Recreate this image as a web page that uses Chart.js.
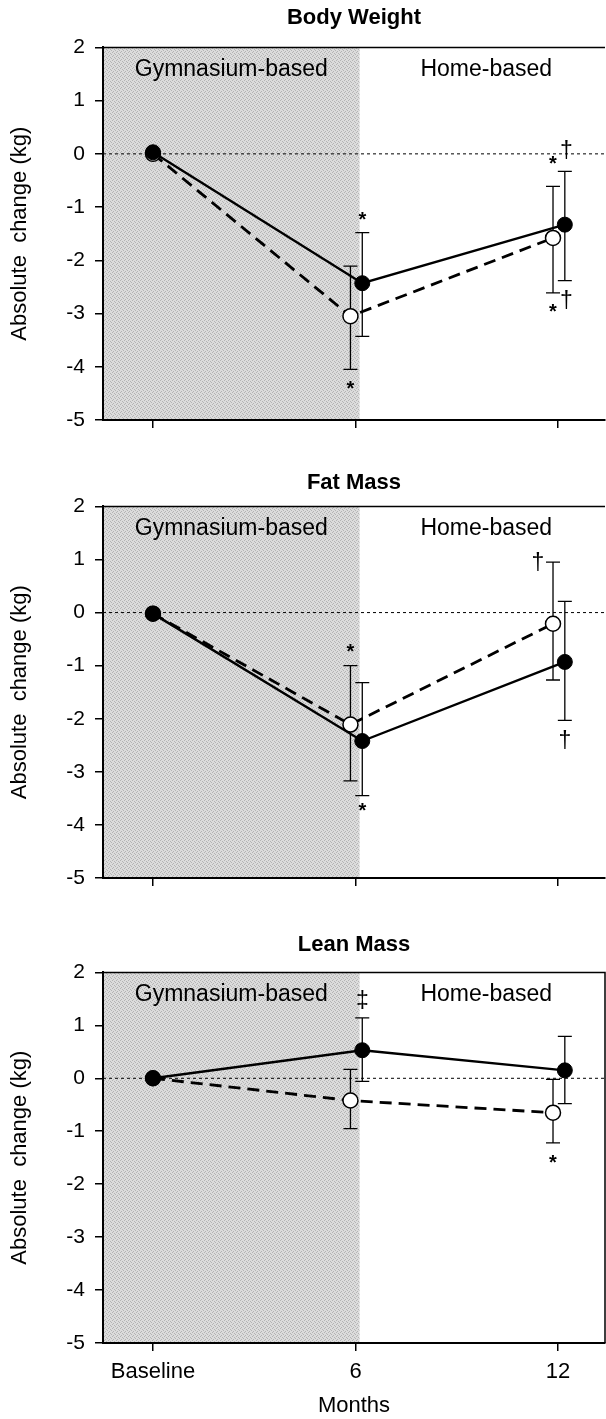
<!DOCTYPE html>
<html lang="en">
<head>
<meta charset="UTF-8" />
<title>Absolute change</title>
<script src="https://cdn.jsdelivr.net/npm/chart.js"></script>
<style>
    body { margin: 0; background: #fff; width: 606px; height: 1419px; position: relative; overflow: hidden; }
    canvas { position: absolute; left: 0; }
</style>
</head>
<body>
<canvas id="bw" width="606" height="460" style="top:0px"></canvas>
<canvas id="fm" width="606" height="460" style="top:460px"></canvas>
<canvas id="lm" width="606" height="499" style="top:920px"></canvas>

<script>
    // months and their labels
    const months = [0, 6, 12];
    const monthLabels = ['Baseline', '6', '12'];
    const yTicks = [-5, -4, -3, -2, -1, 0, 1, 2];

    // Body weight (filled = solid line, open = dashed line)
    const bwFilled = [0.03, -2.43, -1.33];
    const bwFilledHi = [null, -1.48, -0.33];
    const bwFilledLo = [null, -3.43, -2.38];
    const bwOpen = [0.0, -3.05, -1.58];
    const bwOpenHi = [null, -2.11, -0.61];
    const bwOpenLo = [null, -4.05, -2.61];
    const bwMarks = [[6.2, -1.2, '*'], [5.85, -4.37, '*'], [11.85, -0.14, '*'], [12.25, 0.04, '†'], [11.85, -2.93, '*'], [12.25, -2.77, '†']];

    // Fat mass
    const fmFilled = [-0.02, -2.42, -0.93];
    const fmFilledHi = [null, -1.32, 0.21];
    const fmFilledLo = [null, -3.45, -2.03];
    const fmOpen = [-0.02, -2.11, -0.21];
    const fmOpenHi = [null, -1.0, 0.95];
    const fmOpenLo = [null, -3.17, -1.27];
    const fmMarks = [[5.85, -0.7, '*'], [6.2, -3.69, '*'], [11.4, 0.92, '†'], [12.2, -2.44, '†']];

    // Lean mass
    const lmFilled = [0.0, 0.53, 0.15];
    const lmFilledHi = [null, 1.14, 0.79];
    const lmFilledLo = [null, -0.06, -0.48];
    const lmOpen = [0.0, -0.42, -0.65];
    const lmOpenHi = [null, 0.17, -0.02];
    const lmOpenLo = [null, -0.95, -1.22];
    const lmMarks = [[6.2, 1.44, '‡'], [11.85, -1.55, '*']];

    const phaseLabels = ['Gymnasium-based', 'Home-based'];
    const SHADE_END = 6.12;
    const FILLED_SHIFT = 0.2;
    const OPEN_SHIFT = -0.15;
    const FONT = '"Liberation Sans", Arial, Helvetica, sans-serif';

    function stipple() {
        const c = document.createElement('canvas');
        c.width = 4; c.height = 4;
        const g = c.getContext('2d');
        g.fillStyle = '#dcdcdc';
        g.fillRect(0, 0, 4, 4);
        g.fillStyle = '#b4b4b4';
        [[0, 0], [2, 1], [1, 3], [3, 2]].forEach(p => g.fillRect(p[0], p[1], 1, 1));
        return c;
    }

    const decorPlugin = {
        id: 'decor',
        beforeDraw(chart) {
            const { ctx, chartArea: a, scales: { x } } = chart;
            const xe = x.getPixelForValue(SHADE_END);
            ctx.save();
            ctx.fillStyle = ctx.createPattern(stipple(), 'repeat');
            ctx.fillRect(a.left, a.top, xe - a.left, a.bottom - a.top);
            ctx.restore();
        },
        beforeDatasetsDraw(chart) {
            const { ctx, chartArea: a, scales: { x, y } } = chart;
            const o = chart.options.plugins.decor;
            ctx.save();
            // zero line
            const y0 = y.getPixelForValue(0);
            ctx.strokeStyle = '#000';
            ctx.lineWidth = 1;
            ctx.setLineDash([3, 3]);
            ctx.beginPath();
            ctx.moveTo(a.left, y0);
            ctx.lineTo(a.right, y0);
            ctx.stroke();
            ctx.setLineDash([]);
            // frame
            ctx.lineWidth = 1.5;
            ctx.beginPath();
            ctx.moveTo(a.left, a.top);
            ctx.lineTo(a.right, a.top);
            if (o.rightBorder) ctx.lineTo(a.right, a.bottom);
            ctx.stroke();
            // phase labels
            const xe = x.getPixelForValue(SHADE_END);
            ctx.fillStyle = '#000';
            ctx.font = '23px ' + FONT;
            ctx.textAlign = 'center';
            ctx.textBaseline = 'middle';
            ctx.fillText(phaseLabels[0], (a.left + xe) / 2, a.top + 22);
            ctx.fillText(phaseLabels[1], (xe + a.right) / 2 + 4, a.top + 22);
            // error bars
            ctx.lineWidth = 1.3;
            chart.data.datasets.forEach((ds, i) => {
                const meta = chart.getDatasetMeta(i);
                meta.data.forEach((pt, j) => {
                    if (ds.hi[j] == null) return;
                    const yh = y.getPixelForValue(ds.hi[j]);
                    const yl = y.getPixelForValue(ds.lo[j]);
                    ctx.beginPath();
                    ctx.moveTo(pt.x, yh); ctx.lineTo(pt.x, yl);
                    ctx.moveTo(pt.x - 7, yh); ctx.lineTo(pt.x + 7, yh);
                    ctx.moveTo(pt.x - 7, yl); ctx.lineTo(pt.x + 7, yl);
                    ctx.stroke();
                });
            });
            ctx.restore();
        },
        afterDraw(chart) {
            const { ctx, scales: { x, y } } = chart;
            const o = chart.options.plugins.decor;
            ctx.save();
            ctx.fillStyle = '#000';
            ctx.textAlign = 'center';
            ctx.textBaseline = 'middle';
            o.marks.forEach(m => {
                ctx.font = (m[2] === '*' ? 'bold 20px ' : '23px ') + FONT;
                ctx.fillText(m[2], x.getPixelForValue(m[0]), y.getPixelForValue(m[1]) + (m[2] === '*' ? 3 : 0));
            });
            ctx.restore();
        }
    };

    function points(vals, shift) {
        return vals.map((v, i) => ({ x: months[i] + (i === 0 ? 0 : shift), y: v }));
    }

    function makePanel(id, p) {
        new Chart(document.getElementById(id), {
            type: 'scatter',
            data: {
                datasets: [{
                    data: points(p.filled, FILLED_SHIFT),
                    hi: p.filledHi, lo: p.filledLo,
                    showLine: true,
                    borderColor: '#000',
                    borderWidth: 2.4,
                    pointRadius: 7.5,
                    pointBackgroundColor: '#000',
                    pointBorderColor: '#000',
                    pointBorderWidth: 1
                }, {
                    data: points(p.open, OPEN_SHIFT),
                    hi: p.openHi, lo: p.openLo,
                    showLine: true,
                    borderColor: '#000',
                    borderWidth: 2.8,
                    borderDash: [12, 7],
                    pointRadius: 7.5,
                    pointBackgroundColor: '#fff',
                    pointBorderColor: '#000',
                    pointBorderWidth: 1.5
                }]
            },
            options: {
                responsive: false,
                animation: false,
                layout: { autoPadding: false, padding: { left: 0, right: 1, top: 0, bottom: p.padBottom } },
                plugins: {
                    legend: { display: false },
                    tooltip: { enabled: false },
                    title: {
                        display: true,
                        text: p.title,
                        fullSize: false,
                        color: '#000',
                        font: { family: FONT, size: 22, weight: 'bold' },
                        padding: p.titlePad
                    },
                    decor: { marks: p.marks, rightBorder: p.rightBorder }
                },
                scales: {
                    x: {
                        type: 'linear',
                        min: -1.48,
                        max: 13.39,
                        afterBuildTicks: s => { s.ticks = months.map(v => ({ value: v })); },
                        afterFit: s => { s.height = p.xHeight; s.paddingLeft = 0; s.paddingRight = 0; },
                        grid: { drawOnChartArea: false, drawTicks: true, tickLength: 8, color: '#000', lineWidth: 1.5 },
                        border: { display: true, color: '#000', width: 2 },
                        ticks: {
                            display: p.showXLabels,
                            padding: 8,
                            color: '#000',
                            font: { family: FONT, size: 22 },
                            callback: v => monthLabels[months.indexOf(v)]
                        },
                        title: {
                            display: p.showXLabels,
                            text: 'Months',
                            color: '#000',
                            font: { family: FONT, size: 22 },
                            padding: { top: 4, bottom: 0 }
                        }
                    },
                    y: {
                        min: -5,
                        max: 2,
                        afterBuildTicks: s => { s.ticks = yTicks.map(v => ({ value: v })); },
                        afterFit: s => { s.width = 103; s.paddingTop = 0; s.paddingBottom = 0; },
                        grid: { drawOnChartArea: false, drawTicks: true, tickLength: 8, color: '#000', lineWidth: 1.5 },
                        border: { display: true, color: '#000', width: 2 },
                        ticks: { padding: 10, color: '#000', font: { family: FONT, size: 21 } },
                        title: {
                            display: true,
                            text: 'Absolute  change (kg)',
                            color: '#000',
                            font: { family: FONT, size: 22 },
                            padding: { top: 7, bottom: 0 }
                        }
                    }
                }
            },
            plugins: [decorPlugin]
        });
    }

    makePanel('bw', {
        title: 'Body Weight', filled: bwFilled, filledHi: bwFilledHi, filledLo: bwFilledLo,
        open: bwOpen, openHi: bwOpenHi, openLo: bwOpenLo, marks: bwMarks,
        titlePad: { top: 5, bottom: 16 }, xHeight: 30, padBottom: 10, showXLabels: false, rightBorder: false
    });
    makePanel('fm', {
        title: 'Fat Mass', filled: fmFilled, filledHi: fmFilledHi, filledLo: fmFilledLo,
        open: fmOpen, openHi: fmOpenHi, openLo: fmOpenLo, marks: fmMarks,
        titlePad: { top: 10, bottom: 10 }, xHeight: 30, padBottom: 12, showXLabels: false, rightBorder: false
    });
    makePanel('lm', {
        title: 'Lean Mass', filled: lmFilled, filledHi: lmFilledHi, filledLo: lmFilledLo,
        open: lmOpen, openHi: lmOpenHi, openLo: lmOpenLo, marks: lmMarks,
        titlePad: { top: 12, bottom: 14 }, xHeight: 76, padBottom: 0, showXLabels: true, rightBorder: true
    });
</script>
</body>
</html>
